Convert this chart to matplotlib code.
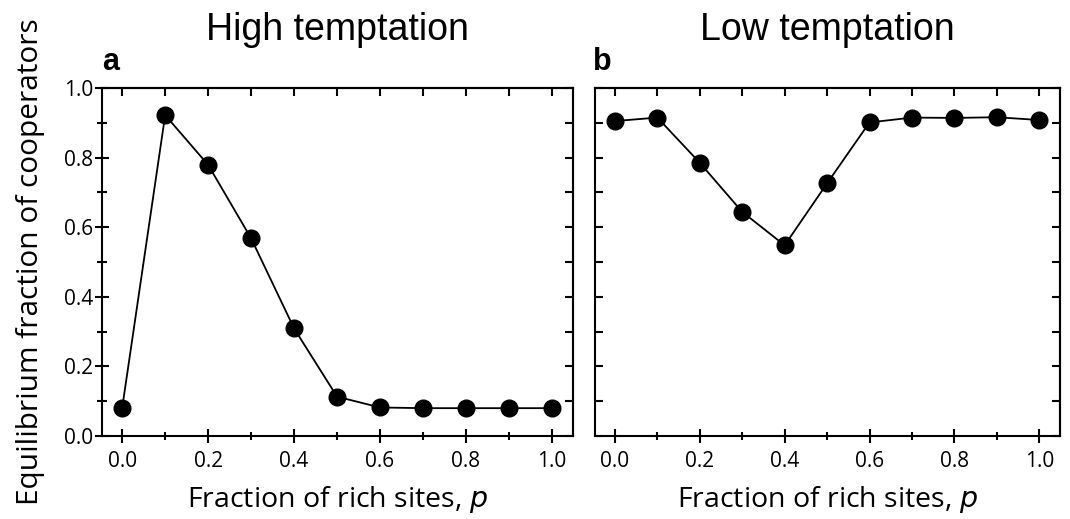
import matplotlib
matplotlib.use("Agg")
import matplotlib.pyplot as plt
from matplotlib.ticker import MultipleLocator

# Fraction of rich sites
p = [0.0, 0.1, 0.2, 0.3, 0.4, 0.5, 0.6, 0.7, 0.8, 0.9, 1.0]

# Equilibrium fraction of cooperators
high_temptation = [0.081, 0.922, 0.779, 0.568, 0.309, 0.113, 0.082, 0.080, 0.080, 0.080, 0.080]
low_temptation = [0.905, 0.915, 0.785, 0.644, 0.548, 0.726, 0.901, 0.915, 0.914, 0.916, 0.908]

titles = ["High temptation", "Low temptation"]
panel_letters = ["a", "b"]
xlabel = "Fraction of rich sites, $\\it{p}$"
ylabel = "Equilibrium fraction of cooperators"
ticks = [0.0, 0.2, 0.4, 0.6, 0.8, 1.0]
tick_labels = ["0.0", "0.2", "0.4", "0.6", "0.8", "1.0"]

W, H = 1070, 519
fig = plt.figure(figsize=(W / 100, H / 100), dpi=100)

LABEL_FONT = "Open Sans"
TITLE_FONT = "Liberation Sans"
LW = 1.5


def frac_box(left, top, right, bottom):
    return [left / W, 1 - bottom / H, (right - left) / W, (bottom - top) / H]


boxes = [frac_box(102, 88, 573, 436), frac_box(595, 88, 1060, 436)]
series = [high_temptation, low_temptation]

for i, (box, yvals) in enumerate(zip(boxes, series)):
    ax = fig.add_axes(box)
    ax.plot(p, yvals, color="black", lw=1.3, marker="o", ms=12,
            markerfacecolor="black", markeredgecolor="black", zorder=3,
            clip_on=False)
    ax.set_xlim(-0.047, 1.049)
    ax.set_ylim(0.0, 1.0)
    for s in ax.spines.values():
        s.set_linewidth(LW)

    ax.set_xticks(ticks)
    ax.set_xticklabels(tick_labels, fontfamily=LABEL_FONT, fontsize=15)
    ax.xaxis.set_minor_locator(MultipleLocator(0.1))
    ax.yaxis.set_major_locator(MultipleLocator(0.2))
    ax.yaxis.set_minor_locator(MultipleLocator(0.1))

    ax.tick_params(axis="x", which="major", direction="inout", length=9.5,
                   width=LW, pad=6, top=False)
    ax.tick_params(axis="x", which="minor", direction="inout", length=6,
                   width=LW, top=False)
    if i == 0:
        ax.set_yticks(ticks)
        ax.set_yticklabels(tick_labels, fontfamily=LABEL_FONT, fontsize=15)
        ax.tick_params(axis="y", which="major", direction="inout", length=10.5,
                       width=LW, pad=1, right=False)
        ax.tick_params(axis="y", which="minor", direction="inout", length=6.5,
                       width=LW, right=False)
    else:
        ax.tick_params(axis="y", which="both", direction="in", length=6,
                       width=LW, labelleft=False, right=False)

    # inward ticks on the top and right edges
    top = ax.secondary_xaxis("top")
    top.set_xticks(ticks)
    top.xaxis.set_minor_locator(MultipleLocator(0.1))
    top.tick_params(which="both", direction="in", length=6, width=LW,
                    labeltop=False)
    top.spines["top"].set_linewidth(LW)
    right = ax.secondary_yaxis("right")
    right.yaxis.set_major_locator(MultipleLocator(0.2))
    right.yaxis.set_minor_locator(MultipleLocator(0.1))
    right.tick_params(which="both", direction="in", length=6, width=LW,
                      labelright=False)
    right.spines["right"].set_linewidth(LW)

    ax.set_xlabel(xlabel, fontfamily=LABEL_FONT, fontsize=20.5, labelpad=9)

    cx = box[0] + box[2] / 2
    fig.text(cx, 1 - 40 / H, titles[i], ha="center", va="baseline",
             fontfamily=TITLE_FONT, fontsize=27)
    lx = [102, 593][i]
    fig.text(lx / W, 1 - 70 / H, panel_letters[i], ha="left", va="baseline",
             fontfamily=TITLE_FONT, fontweight="bold", fontsize=22)

fig.text(31 / W, 1 - 262 / H, ylabel, rotation=90, ha="center", va="center",
         fontfamily=LABEL_FONT, fontsize=21.5)

fig.savefig("out.png", dpi=100, facecolor="white")
